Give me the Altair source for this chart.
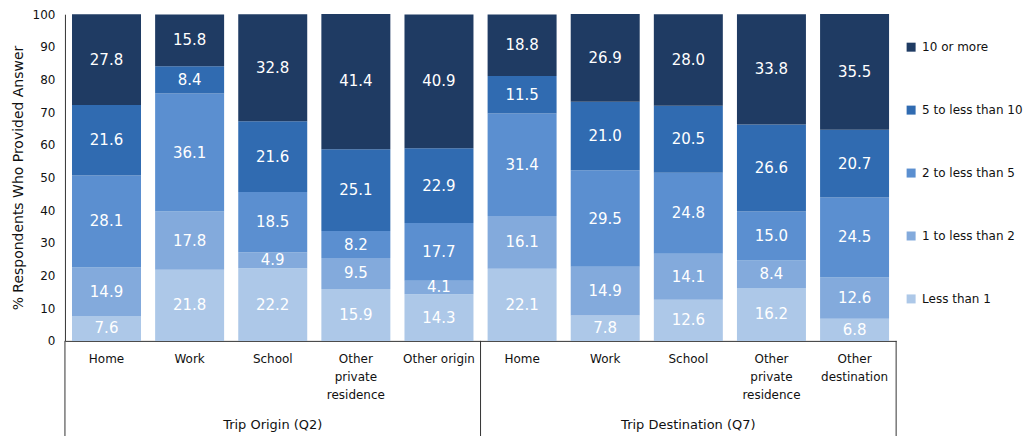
import altair as alt
import pandas as pd

groups = ["Trip Origin (Q2)"] * 5 + ["Trip Destination (Q7)"] * 5
places = ["Home", "Work", "School", "Other\nprivate\nresidence", "Other origin",
          "Home", "Work", "School", "Other\nprivate\nresidence", "Other\ndestination"]
bins = ["Less than 1", "1 to less than 2", "2 to less than 5", "5 to less than 10", "10 or more"]
less_than_1 = [7.6, 21.8, 22.2, 15.9, 14.3, 22.1, 7.8, 12.6, 16.2, 6.8]
one_to_2 = [14.9, 17.8, 4.9, 9.5, 4.1, 16.1, 14.9, 14.1, 8.4, 12.6]
two_to_5 = [28.1, 36.1, 18.5, 8.2, 17.7, 31.4, 29.5, 24.8, 15.0, 24.5]
five_to_10 = [21.6, 8.4, 21.6, 25.1, 22.9, 11.5, 21.0, 20.5, 26.6, 20.7]
ten_plus = [27.8, 15.8, 32.8, 41.4, 40.9, 18.8, 26.9, 28.0, 33.8, 35.5]
y_ticks = [0, 10, 20, 30, 40, 50, 60, 70, 80, 90, 100]
colors = ["#adc8e8", "#83aadc", "#5b8fd0", "#306bb1", "#1f3b63"]

series = [less_than_1, one_to_2, two_to_5, five_to_10, ten_plus]
keys = [f"{g}|{p.replace(chr(10), '~')}" for g, p in zip(groups, places)]

rows = []
for k, (b, vals) in enumerate(zip(bins, series)):
    for key, v in zip(keys, vals):
        rows.append({"key": key, "bin": b, "k": k, "value": v})
df = pd.DataFrame(rows)

FONT = "DejaVu Sans"
W, H = 832, 327

x_axis = alt.Axis(
    labelExpr="split(split(datum.value, '|')[1], '~')",
    labelAngle=0, ticks=False, domainColor="#333", labelFontSize=12,
    labelColor="#111", labelPadding=13, labelLineHeight=18, labelFont=FONT,
    labelBaseline="top", title=None,
)
x_scale = alt.Scale(paddingInner=0, paddingOuter=0)
y_axis = alt.Axis(
    values=y_ticks, grid=False, ticks=False, labelOverlap=False,
    domainColor="#333", labelFontSize=12, labelColor="#111",
    labelPadding=10, labelFont=FONT,
    title="% Respondents Who Provided Answer", titleFontSize=14,
    titleFont=FONT, titleFontWeight="normal", titleColor="#111",
    titlePadding=7,
)
y_scale = alt.Scale(domain=[0, 100], nice=False)

bars = alt.Chart(df).mark_bar(width={"band": 0.83}).encode(
    x=alt.X("key:N", sort=keys, scale=x_scale, axis=x_axis),
    y=alt.Y("value:Q", stack="zero", scale=y_scale, axis=y_axis),
    color=alt.Color(
        "bin:N",
        scale=alt.Scale(domain=bins[::-1], range=colors[::-1]),
        legend=alt.Legend(
            title=None, orient="none", legendX=841, legendY=27,
            symbolType="square", symbolSize=81, symbolStrokeWidth=0,
            labelFontSize=12, labelFont=FONT, labelColor="#111",
            rowPadding=51, labelOffset=5, padding=0,
        ),
    ),
    order=alt.Order("k:Q"),
)

labels = alt.Chart(df).transform_stack(
    stack="value", groupby=["key"], as_=["y0", "y1"],
    sort=[alt.SortField("k", order="ascending")],
).transform_calculate(
    mid="(datum.y0 + datum.y1) / 2"
).mark_text(color="white", fontSize=15, font=FONT).encode(
    x=alt.X("key:N", sort=keys, scale=x_scale, axis=x_axis),
    y=alt.Y("mid:Q", scale=y_scale, axis=y_axis),
    text=alt.Text("value:Q", format=".1f"),
)

seps_start = pd.DataFrame({"key": [keys[0], keys[5]]})
seps_end = pd.DataFrame({"key": [keys[9]]})
rule_start = alt.Chart(seps_start).mark_rule(color="#333", strokeWidth=1).encode(
    x=alt.X("key:N", sort=keys, bandPosition=0, scale=x_scale, axis=x_axis),
    y=alt.value(H), y2=alt.value(H + 100),
)
rule_end = alt.Chart(seps_end).mark_rule(color="#333", strokeWidth=1).encode(
    x=alt.X("key:N", sort=keys, bandPosition=1, scale=x_scale, axis=x_axis),
    y=alt.value(H), y2=alt.value(H + 100),
)

grp = pd.DataFrame({"key": [keys[2], keys[7]], "label": [groups[0], groups[5]]})
group_text = alt.Chart(grp).mark_text(fontSize=13, font=FONT, color="#111").encode(
    x=alt.X("key:N", sort=keys, scale=x_scale, axis=x_axis),
    y=alt.value(H + 84),
    text="label:N",
)

chart = alt.layer(bars, labels, rule_start, rule_end, group_text).properties(
    width=W, height=H,
    autosize=alt.AutoSizeParams(type="none"),
    padding={"left": 57, "top": 6, "right": 130, "bottom": 100},
).configure_view(stroke=None)

chart.save("out.html", embed_options={"renderer": "svg", "actions": False})
